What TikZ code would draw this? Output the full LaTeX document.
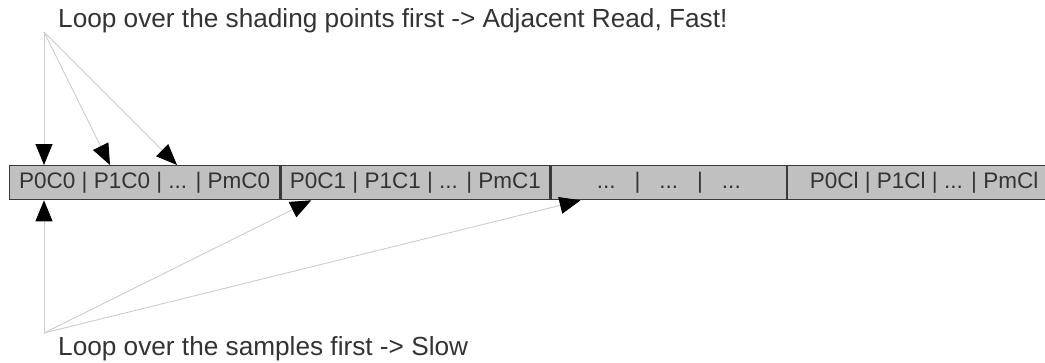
\documentclass[tikz,border=0pt]{standalone}
\usepackage{fontspec}
\setmainfont{Liberation Sans}
\usetikzlibrary{arrows.meta,calc}
\definecolor{txt}{HTML}{333333}
\definecolor{cellfill}{HTML}{C0C0C0}
\definecolor{cellline}{HTML}{3A3A3A}
\definecolor{wire}{HTML}{CCCCCC}
\begin{document}
\begin{tikzpicture}[x=1pt,y=-1pt,
  cell/.style={draw=cellline,line width=1.3pt,fill=cellfill,minimum height=34pt,
    inner sep=0pt,anchor=north west,text=txt,font=\fontsize{22.5}{26}\selectfont},
  label/.style={anchor=base west,inner sep=0pt,text=txt,font=\fontsize{26.2}{30}\selectfont},
  link/.style={draw=wire,line width=0.9pt,-{Triangle[length=21pt,width=17pt,color=black,fill=black]}}]
\useasboundingbox (0,0) rectangle (1045,362);
\clip (0,0) rectangle (1045,362);
% memory row
\node[cell,minimum width=270pt] (c0) at (9,165) {P0C0 | P1C0 | ... | PmC0};
\node[cell,minimum width=269pt] (c1) at (c0.north east) {P0C1 | P1C1 | ... | PmC1};
\node[cell,minimum width=235pt] (c2) at (c1.north east) {...\hspace{19pt}|\hspace{19pt}...\hspace{19pt}|\hspace{19pt}...};
\node[cell,minimum width=273pt] (c3) at (c2.north east) {P0Cl | P1Cl | ... | PmCl};
% captions
\node[label] (top) at (58,27) {Loop over the shading points first -> Adjacent Read, Fast!};
\node[label] (bot) at (58,355) {Loop over the samples first -> Slow};
\coordinate (ts) at (44,32);
\coordinate (bs) at (44,333);
% fast order: neighbouring points of one sample
\draw[link] (ts) -- ($(c0.north west)+(35,0)$);
\draw[link] (ts) -- ($(c0.north west)+(101,0)$);
\draw[link] (ts) -- ($(c0.north west)+(168,0)$);
% slow order: jump from block to block
\draw[link] (bs) -- ($(c0.south west)+(35,0)$);
\draw[link] (bs) -- ($(c1.south west)+(31,0)$);
\draw[link] (bs) -- ($(c2.south west)+(30,0)$);
\end{tikzpicture}
\end{document}
